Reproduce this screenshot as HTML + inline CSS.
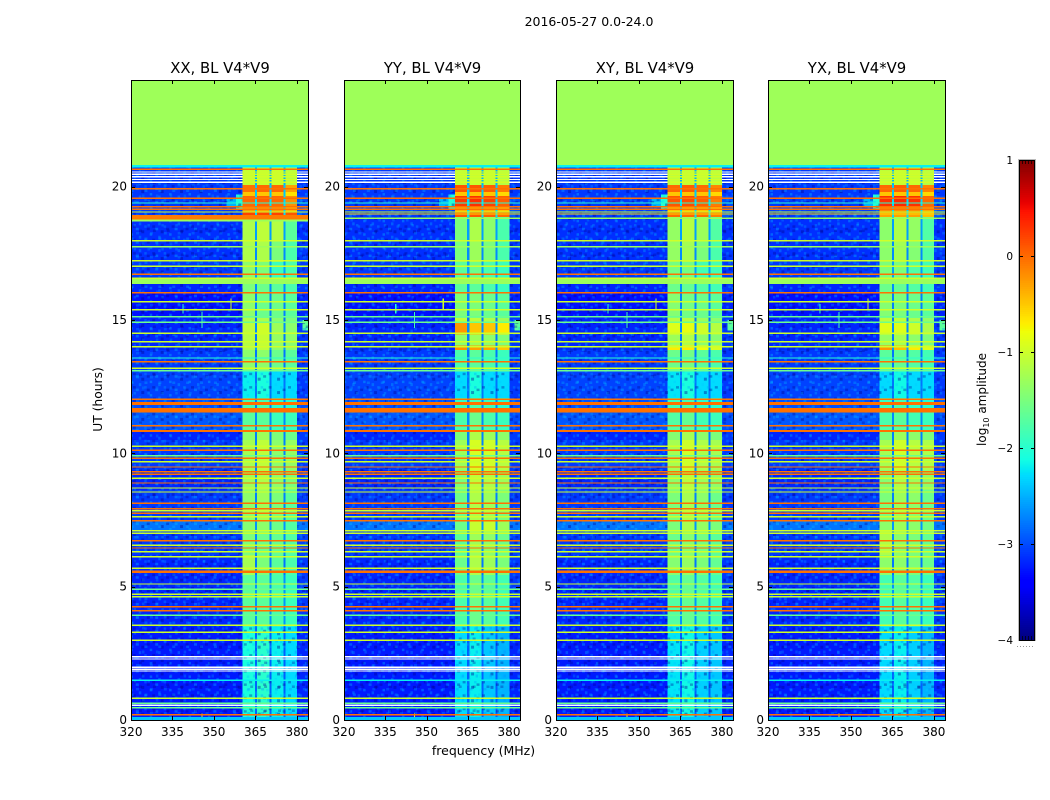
<!DOCTYPE html>
<html>
<head>
<meta charset="utf-8">
<title>2016-05-27 spectrogram</title>
<style>
html,body{margin:0;padding:0;background:#fff;width:1050px;height:800px;overflow:hidden}
svg{display:block}
text{font-family:"DejaVu Sans",sans-serif;fill:#000}
</style>
</head>
<body>
<svg id="fig" xmlns="http://www.w3.org/2000/svg" width="1050" height="800" viewBox="0 0 1050 800" shape-rendering="crispEdges">
<defs>
<pattern id="noiseA" patternUnits="userSpaceOnUse" width="19.4" height="13.4">
<rect x="0" y="0" width="2.8" height="2.7" fill="#00c8ff" opacity=".35"/>
<rect x="5.5" y="2.7" width="2.8" height="2.7" fill="#000090" opacity=".4"/>
<rect x="11" y="0" width="2.8" height="2.7" fill="#000090" opacity=".35"/>
<rect x="13.8" y="5.4" width="2.8" height="2.7" fill="#00c8ff" opacity=".35"/>
<rect x="2.8" y="8" width="2.8" height="2.7" fill="#00c8ff" opacity=".3"/>
<rect x="8.3" y="10.7" width="2.8" height="2.7" fill="#00a0ff" opacity=".35"/>
<rect x="16.6" y="10.7" width="2.8" height="2.7" fill="#000090" opacity=".35"/>
</pattern>
<pattern id="noiseB" patternUnits="userSpaceOnUse" width="13.9" height="24">
<rect x="2.8" y="2.7" width="2.8" height="2.7" fill="#0090ff" opacity=".35"/>
<rect x="8.3" y="8" width="2.8" height="2.7" fill="#00d0ff" opacity=".25"/>
<rect x="0" y="13.4" width="2.8" height="2.7" fill="#000090" opacity=".3"/>
<rect x="11.1" y="16" width="2.8" height="2.7" fill="#0090ff" opacity=".35"/>
<rect x="5.5" y="21.3" width="2.8" height="2.7" fill="#00c0ff" opacity=".3"/>
</pattern>
</defs>
</svg>
<script>
// ---------- chart data (log10 amplitude) ----------
var panelNames = ['XX', 'YY', 'XY', 'YX'];
var figureTitle = '2016-05-27 0.0-24.0';
var xTickValues = [320, 335, 350, 365, 380];
var yTickValues = [0, 5, 10, 15, 20];
var colorbarTicks = [1, 0, -1, -2, -3, -4];
var emptyLevel = -1.29;
var dataEndHour = 20.81;

// frequency groups, MHz
var bandEdges = [[360.4, 364.8], [365.6, 370], [370.8, 375.1], [375.8, 380.1]];
var gapEdges = [[364.8, 365.6], [370, 370.8], [375.1, 375.8]];

// time segments (hours): start of each row
var segStarts = [0, 3.5, 5.44, 6.19, 7.12, 7.47, 8.62, 9.37, 10.5, 10.87, 11.55, 12.07, 13.09, 13.87, 14.05, 14.45, 14.9, 15.07, 16.05, 16.35, 17.17, 18, 18.86, 19.05, 19.24, 19.65, 19.8, 20.06];
var bgLeft = [-3.25, -3.2, -3.2, -3.1, -2.8, -3.1, -3.2, -3.1, -3.2, -2.95, -3.0, -3.05, -3.1, -3.2, -3.2, -3.2, -3.2, -3.3, -3.2, -3.1, -3.15, -3.15, -3.1, -3.1, -3.1, -3.1, -3.1, -3.1];
var bgRight = [-3.2, -3.1, -3.1, -3.05, -2.8, -3.1, -3.1, -3.1, -3.1, -3.0, -3.0, -3.1, -3.1, -3.1, -3.1, -3.1, -3.1, -3.2, -3.1, -3.1, -3.1, -3.15, -2.95, -3.0, -3.0, -3.1, -3.1, -3.1];
var gapLevels = [-2.9, -2.65, -2.8, -2.7, -2.65, -2.75, -2.7, -2.75, -2.75, -2.7, -2.75, -2.8, -2.8, -2.6, -2.8, -2.7, -2.8, -2.75, -2.7, -2.6, -2.7, -2.6, -2.3, -2.3, -2.3, -2.4, -2.4, -2.5];

// per-panel band levels: one row per segment, four bands
var bandsXX = [[-2.1,-2.0,-2.2,-2.3],[-1.7,-1.7,-1.8,-1.9],[-1.25,-1.5,-1.7,-1.8],[-1.5,-1.6,-1.65,-1.75],[-1.45,-1.4,-1.6,-1.75],[-1.4,-1.3,-1.5,-1.7],[-1.3,-1.2,-1.4,-1.5],[-1.25,-1.1,-1.4,-1.35],[-1.4,-1.3,-1.5,-1.6],[-1.7,-1.7,-1.9,-1.9],[-1.8,-1.8,-2.0,-2.0],[-2.2,-2.1,-2.3,-2.3],[-1.4,-1.4,-1.6,-1.7],[-1.2,-1.1,-1.4,-1.4],[-1.15,-1.05,-1.35,-1.4],[-1.1,-1.0,-1.3,-1.4],[-1.2,-1.2,-1.4,-1.5],[-1.4,-1.6,-1.6,-1.7],[-1.5,-1.6,-1.7,-1.8],[-1.4,-1.5,-1.9,-1.8],[-1.2,-1.2,-1.5,-1.8],[-1.2,-1.1,-1.15,-1.7],[0.2,0.2,0.2,0.1],[-0.3,-0.3,-0.3,-0.45],[0.0,0.05,0.0,-0.2],[-0.5,-0.5,-0.5,-0.65],[-0.05,0.0,0.0,-0.3],[-1.05,-1.05,-1.0,-1.15]];
var bandsYY = [[-2.3,-2.2,-2.4,-2.5],[-1.8,-1.6,-1.7,-1.85],[-1.6,-1.2,-1.3,-1.5],[-1.7,-1.3,-1.4,-1.6],[-1.6,-1.05,-1.05,-1.3],[-1.6,-1.2,-1.3,-1.5],[-1.5,-1.1,-1.2,-1.3],[-1.3,-0.95,-1.0,-1.15],[-1.5,-1.2,-1.3,-1.4],[-1.8,-1.6,-1.8,-1.9],[-1.9,-1.8,-1.9,-2.0],[-2.3,-2.1,-2.3,-2.3],[-1.8,-1.7,-1.8,-1.9],[-0.2,-0.3,-0.3,-0.5],[-1.4,-1.3,-1.4,-1.5],[-0.25,-0.5,-0.5,-0.7],[-1.1,-1.1,-1.2,-1.3],[-1.5,-1.5,-1.6,-1.7],[-1.7,-1.7,-1.8,-1.9],[-1.7,-1.6,-1.8,-1.9],[-1.5,-1.3,-1.5,-1.8],[-1.5,-1.2,-1.4,-1.8],[0.1,0.1,0.05,0.0],[-0.4,-0.4,-0.4,-0.5],[0.25,0.3,0.2,0.05],[-0.5,-0.5,-0.5,-0.6],[0.1,0.1,0.05,-0.1],[-1.1,-1.05,-1.05,-1.15]];
var bandsXY = [[-2.25,-2.15,-2.35,-2.4],[-1.75,-1.65,-1.75,-1.85],[-1.45,-1.35,-1.5,-1.65],[-1.6,-1.45,-1.55,-1.7],[-1.5,-1.25,-1.35,-1.5],[-1.5,-1.25,-1.4,-1.6],[-1.4,-1.15,-1.3,-1.4],[-1.25,-1.0,-1.2,-1.25],[-1.45,-1.25,-1.4,-1.5],[-1.75,-1.65,-1.85,-1.9],[-1.85,-1.8,-1.95,-2.0],[-2.25,-2.1,-2.3,-2.3],[-1.6,-1.55,-1.7,-1.8],[-0.7,-0.7,-0.8,-0.95],[-1.3,-1.2,-1.4,-1.45],[-0.9,-0.85,-1.0,-1.15],[-1.15,-1.15,-1.3,-1.4],[-1.45,-1.55,-1.6,-1.7],[-1.6,-1.65,-1.75,-1.85],[-1.55,-1.55,-1.85,-1.85],[-1.35,-1.25,-1.5,-1.8],[-1.35,-1.15,-1.3,-1.75],[0.0,0.0,0.0,-0.1],[-0.5,-0.5,-0.5,-0.6],[0.1,0.15,0.05,-0.1],[-0.5,-0.5,-0.5,-0.6],[0.0,0.05,0.0,-0.15],[-1.1,-1.05,-1.05,-1.15]];
var bandsYX = [[-2.3,-2.2,-2.35,-2.5],[-1.85,-1.7,-1.75,-1.9],[-1.4,-1.4,-1.5,-1.6],[-1.2,-1.4,-1.5,-1.65],[-1.4,-1.3,-1.4,-1.55],[-1.5,-1.3,-1.4,-1.6],[-1.45,-1.2,-1.3,-1.4],[-1.25,-1.0,-1.15,-1.2],[-1.5,-1.3,-1.4,-1.5],[-1.8,-1.7,-1.85,-1.9],[-1.9,-1.8,-1.95,-2.0],[-2.3,-2.15,-2.3,-2.3],[-1.7,-1.65,-1.75,-1.85],[-0.25,-0.45,-0.7,-0.9],[-1.35,-1.25,-1.4,-1.5],[-0.9,-0.9,-1.0,-1.2],[-1.1,-1.1,-1.2,-1.35],[-1.45,-1.5,-1.6,-1.7],[-1.6,-1.65,-1.75,-1.85],[-1.5,-1.5,-1.75,-1.85],[-1.4,-1.25,-1.45,-1.75],[-1.4,-1.2,-1.35,-1.75],[-0.3,-0.3,-0.3,-0.45],[-0.2,-0.2,-0.2,-0.35],[0.3,0.35,0.3,0.0],[-0.5,-0.5,-0.5,-0.6],[0.0,0.05,0.0,-0.15],[-1.1,-1.05,-1.05,-1.15]];
var panelBands = [bandsXX, bandsYY, bandsXY, bandsYX];

// RFI lines across all channels: centre hour and level (null = masked/white)
var orangeHours = [20.65, 19.93, 19.56, 19.25, 19.16, 16.72, 16.03, 13.44, 12.03, 11.03, 10.85, 10.12, 9.81, 9.49, 9.31, 9.21, 8.89, 8.13, 7.92, 7.76, 7.47, 6.72, 6.45, 4.25, 4.10, 0.2];
var orangeLevel = -0.05;
var yellowHours = [19.05, 17.97, 17.22, 17.02, 16.56, 15.69, 15.38, 14.51, 14.19, 14.0, 13.19, 10.27, 9.69, 9.07, 8.7, 8.55, 7.85, 7.62, 7.1, 7.01, 6.56, 6.31, 6.12, 5.69, 5.1, 4.71, 4.62, 3.55, 3.29, 2.99, 0.81];
var yellowLevel = -1.0;
var paleHours = [15.12, 14.92, 13.1, 9.91, 4.9, 3.93, 0.63, 0.46];
var paleLevel = -1.6;
var whiteHours = [2.37, 2.29, 1.98, 1.91, 1.84, 0.56];
var whiteTopHours = [20.55, 20.46, 20.37, 20.27, 20.17];

// thick stripes: start hour, end hour, level
var stripeStart = [11.81, 11.53, 10.8, 5.52, 17.72, 16.35, 20.72, 13.56, 19.36, 1.47, 0];
var stripeEnd = [11.92, 11.7, 10.88, 5.6, 17.77, 16.54, 20.81, 13.6, 19.41, 1.51, 0.12];
var stripeLevel = [-0.05, -0.05, -0.05, -0.05, -1.3, -1.3, -2.2, -2.0, -2.0, -2.2, -2.4];

// stripes near 18.8 h that differ between panels
var xxStripeStart = [18.77, 18.7];
var xxStripeEnd = [18.93, 18.77];
var xxStripeLevel = [-0.1, -1.3];
var otherStripeStart = [18.78, 18.95];
var otherStripeEnd = [18.85, 19.0];
var otherStripeLevel = [-1.3, -0.6];

// glow next to the band, and isolated spikes (shared by all panels)
var glowFreqStart = [354.5, 358, 382];
var glowFreqEnd = [358, 360.4, 384];
var glowHourStart = [19.25, 19.15, 14.6];
var glowHourEnd = [19.6, 19.7, 15.0];
var glowLevel = [-2.5, -2.05, -1.7];
var spikeFreq = [338.8, 345.6, 356.1, 345.6];
var spikeHourStart = [15.25, 14.7, 15.4, 0];
var spikeHourEnd = [15.6, 15.3, 15.8, 0.25];
var spikeLevel = [-2.0, -1.9, -1.0, -1.0];

// ---------- axis functions ----------
var panelLefts = [131, 344, 556, 768];
var panelRights = [308, 520, 733, 945];
var plotTop = 80, plotBottom = 720, hourMax = 24, freqMin = 320, freqMax = 384;
function xScale(panel, f) {
  return panelLefts[panel] + (f - freqMin) / (freqMax - freqMin) * (panelRights[panel] - panelLefts[panel]);
}
function yScale(h) {
  return plotBottom - h / hourMax * (plotBottom - plotTop);
}
function interp(v, pts) {
  for (var i = 1; i < pts.length; i++) {
    if (v <= pts[i][0]) {
      return pts[i - 1][1] + (v - pts[i - 1][0]) / (pts[i][0] - pts[i - 1][0]) * (pts[i][1] - pts[i - 1][1]);
    }
  }
  return pts[pts.length - 1][1];
}
function jet(level) {
  if (level === null) { return '#ffffff'; }
  var t = Math.max(0, Math.min(1, (level + 4) / 5));
  var r = interp(t, [[0, 0], [0.35, 0], [0.66, 1], [0.89, 1], [1, 0.5]]);
  var g = interp(t, [[0, 0], [0.125, 0], [0.375, 1], [0.64, 1], [0.91, 0], [1, 0]]);
  var b = interp(t, [[0, 0.5], [0.11, 1], [0.34, 1], [0.65, 0], [1, 0]]);
  return 'rgb(' + Math.round(r * 255) + ',' + Math.round(g * 255) + ',' + Math.round(b * 255) + ')';
}

// ---------- drawing helpers ----------
var NS = 'http://www.w3.org/2000/svg';
var fig = document.getElementById('fig');
function mk(tag, attrs, parent) {
  var el = document.createElementNS(NS, tag);
  for (var k in attrs) { el.setAttribute(k, attrs[k]); }
  (parent || fig).appendChild(el);
  return el;
}
function cell(parent, panel, f0, f1, h0, h1, level, minH) {
  var x0 = xScale(panel, f0), x1 = xScale(panel, f1), yA = yScale(h1), yB = yScale(h0);
  var ht = Math.max(yB - yA, minH || 0);
  return mk('rect', { x: x0.toFixed(2), y: yA.toFixed(2), width: (x1 - x0).toFixed(2), height: ht.toFixed(2), fill: jet(level) }, parent);
}
function txt(content, x, y, size, anchor, parent) {
  var el = mk('text', { x: x, y: y, 'font-size': size, 'text-anchor': anchor || 'middle', 'shape-rendering': 'auto' }, parent);
  el.textContent = content;
  return el;
}
function hline(parent, panel, hour, level, f0, f1) {
  var el = cell(parent, panel, f0 === undefined ? freqMin : f0, f1 === undefined ? freqMax : f1, hour - 0.025, hour + 0.025, level, 1.4);
  
  
}
function stripes(parent, panel, starts, ends, levels) {
  for (var i = 0; i < starts.length; i++) {
    var el = cell(parent, panel, freqMin, freqMax, starts[i], ends[i], levels[i]);
    
    
  }
}
function texture(parent, panel, f0, f1, h0, h1, patternId) {
  var x0 = xScale(panel, f0), x1 = xScale(panel, f1), y0 = yScale(h1), y1 = yScale(h0);
  var el = mk('rect', { x: x0, y: y0, width: x1 - x0, height: y1 - y0, fill: 'url(#' + patternId + ')' }, parent);
  
  
}

// ---------- figure title ----------
var ft = txt(figureTitle, 589, 26, 12.5, 'middle');



// ---------- panels ----------
panelNames.forEach(function (name, p) {
  var g = mk('g', {});
  
  

  var emptyEl = cell(g, p, freqMin, freqMax, dataEndHour, hourMax, emptyLevel);
  
  

  var bands = panelBands[p];
  for (var s = 0; s < segStarts.length; s++) {
    var h0 = segStarts[s];
    var h1 = s + 1 < segStarts.length ? segStarts[s + 1] : dataEndHour;
    var c1 = cell(g, p, freqMin, bandEdges[0][0], h0, h1, bgLeft[s]);
    
    
    var c2 = cell(g, p, bandEdges[3][1], freqMax, h0, h1, bgRight[s]);
    
    
    for (var b = 0; b < bandEdges.length; b++) {
      var c3 = cell(g, p, bandEdges[b][0], bandEdges[b][1], h0, h1, bands[s][b]);
      
      
    }
    for (var q = 0; q < gapEdges.length; q++) {
      var c4 = cell(g, p, gapEdges[q][0], gapEdges[q][1], h0, h1, gapLevels[s]);
      
      
    }
  }

  for (var w = 0; w < glowLevel.length; w++) {
    var gl = cell(g, p, glowFreqStart[w], glowFreqEnd[w], glowHourStart[w], glowHourEnd[w], glowLevel[w]);
    
    
  }

  // fine speckle texture on the off-band background and the quiet hours of the band
  texture(g, p, freqMin, bandEdges[0][0], 0, dataEndHour, 'noiseA');
  texture(g, p, freqMin, bandEdges[0][0], 0, dataEndHour, 'noiseB');
  texture(g, p, bandEdges[3][1], freqMax, 0, dataEndHour, 'noiseA');
  texture(g, p, bandEdges[3][1], freqMax, 0, dataEndHour, 'noiseB');
  texture(g, p, bandEdges[0][0], bandEdges[3][1], 0, segStarts[1], 'noiseA');
  texture(g, p, bandEdges[0][0], bandEdges[3][1], 0, segStarts[1], 'noiseB');
  texture(g, p, bandEdges[0][0], bandEdges[3][1], segStarts[11], segStarts[12], 'noiseA');

  for (var k = 0; k < spikeFreq.length; k++) {
    var sp = cell(g, p, spikeFreq[k] - 0.2, spikeFreq[k] + 0.2, spikeHourStart[k], spikeHourEnd[k], spikeLevel[k]);
    
    
  }

  yellowHours.forEach(function (h) { hline(g, p, h, yellowLevel); });
  paleHours.forEach(function (h) { hline(g, p, h, paleLevel); });
  whiteHours.forEach(function (h) { hline(g, p, h, null); });
  whiteTopHours.forEach(function (h) {
    hline(g, p, h, null, freqMin, bandEdges[0][0]);
    hline(g, p, h, yellowLevel, bandEdges[0][0], bandEdges[3][1]);
    hline(g, p, h, null, bandEdges[3][1], freqMax);
  });
  stripes(g, p, stripeStart, stripeEnd, stripeLevel);
  if (p === 0) {
    stripes(g, p, xxStripeStart, xxStripeEnd, xxStripeLevel);
  } else {
    stripes(g, p, otherStripeStart, otherStripeEnd, otherStripeLevel);
  }
  orangeHours.forEach(function (h) { hline(g, p, h, orangeLevel); });

  // frame
  var left = Math.round(xScale(p, freqMin)), right = Math.round(xScale(p, freqMax));
  var frame = mk('rect', { x: left + 0.5, y: plotTop + 0.5, width: right - left, height: plotBottom - plotTop, fill: 'none', stroke: '#000', 'stroke-width': 1 }, g);
  
  

  // x ticks
  xTickValues.forEach(function (v) {
    var x = Math.round(xScale(p, v)) + 0.5;
    var t1 = mk('line', { x1: x, x2: x, y1: plotBottom, y2: plotBottom - 4, stroke: '#000' }, g);
    
    
    var t2 = mk('line', { x1: x, x2: x, y1: plotTop, y2: plotTop + 4, stroke: '#000' }, g);
    
    
    var lb = txt(String(v), xScale(p, v), 736, 12, 'middle', g);
    
    
  });
  // y ticks
  yTickValues.forEach(function (v) {
    var y = Math.round(yScale(v)) + 0.5;
    var t1 = mk('line', { x1: left, x2: left + 4, y1: y, y2: y, stroke: '#000' }, g);
    
    
    var t2 = mk('line', { x1: right, x2: right - 4, y1: y, y2: y, stroke: '#000' }, g);
    
    
    var lb = txt(String(v), left - 4, yScale(v) + 4, 12, 'end', g);
    
    
  });
  var title = txt(name + ', BL V4*V9', (left + right) / 2 + 0.5, 73, 14.85, 'middle', g);
  
  
});

// ---------- axis titles ----------
var xl = txt('frequency (MHz)', 483.5, 755, 12.5, 'middle');


var yl = txt('UT (hours)', 0, 0, 12.3, 'middle');
yl.setAttribute('transform', 'translate(102,399.5) rotate(-90)');



// ---------- colorbar ----------
var cbLeft = 1019, cbRight = 1035, cbTop = 160, cbBottom = 640;
function cbY(v) { return cbBottom - (v + 4) / 5 * (cbBottom - cbTop); }
var cb = mk('g', {});


for (var lv = -4; lv < 1; lv += 0.02) {
  var stripe = mk('rect', { x: cbLeft, y: cbY(lv + 0.02).toFixed(2), width: cbRight - cbLeft, height: 2.2, fill: jet(lv) }, cb);
  
  
}
var cbHalo = mk('rect', { x: cbLeft - 0.5, y: cbTop - 0.5, width: cbRight - cbLeft + 1, height: cbBottom - cbTop + 1, fill: 'none', stroke: '#bbb' }, cb);


var cbFrame = mk('rect', { x: cbLeft + 0.5, y: cbTop + 0.5, width: cbRight - cbLeft - 1, height: cbBottom - cbTop, fill: 'none', stroke: '#000' }, cb);


colorbarTicks.forEach(function (v) {
  var y = Math.round(cbY(v)) + 0.5;
  if (v < 1 && v > -4) {
    var t1 = mk('line', { x1: cbLeft, x2: cbLeft + 4, y1: y, y2: y, stroke: '#000' }, cb);
    
    
    var t2 = mk('line', { x1: cbRight, x2: cbRight - 4, y1: y, y2: y, stroke: '#000' }, cb);
    
    
  }
  var lb = txt((v < 0 ? '\u2212' + (-v) : String(v)), 1013, cbY(v) + 4, 10.5, 'end', cb);
  
  
});
[3.5, 6.5, 9.5, 12.5].forEach(function (dx) {
  var topTick = mk('line', { x1: cbLeft + dx, x2: cbLeft + dx, y1: cbTop, y2: cbTop + 4, stroke: '#000', 'stroke-opacity': 0.7 }, cb);
  
  
  var botTick = mk('line', { x1: cbLeft + dx, x2: cbLeft + dx, y1: cbBottom, y2: cbBottom - 4, stroke: '#000', 'stroke-opacity': 0.7 }, cb);
  
  
});
var dots = mk('line', { x1: 1017, x2: 1035, y1: 646.5, y2: 646.5, stroke: '#999', 'stroke-dasharray': '1 2' }, cb);



var cl = mk('text', { 'font-size': 12, 'text-anchor': 'middle', transform: 'translate(986,399.5) rotate(-90)', 'shape-rendering': 'auto' });


cl.appendChild(document.createTextNode('log'));
var sub = mk('tspan', { 'font-size': 8, dy: 3 }, cl);
sub.textContent = '10';
var rest = mk('tspan', { dy: -3 }, cl);
rest.textContent = ' amplitude';
</script>
</body>
</html>
